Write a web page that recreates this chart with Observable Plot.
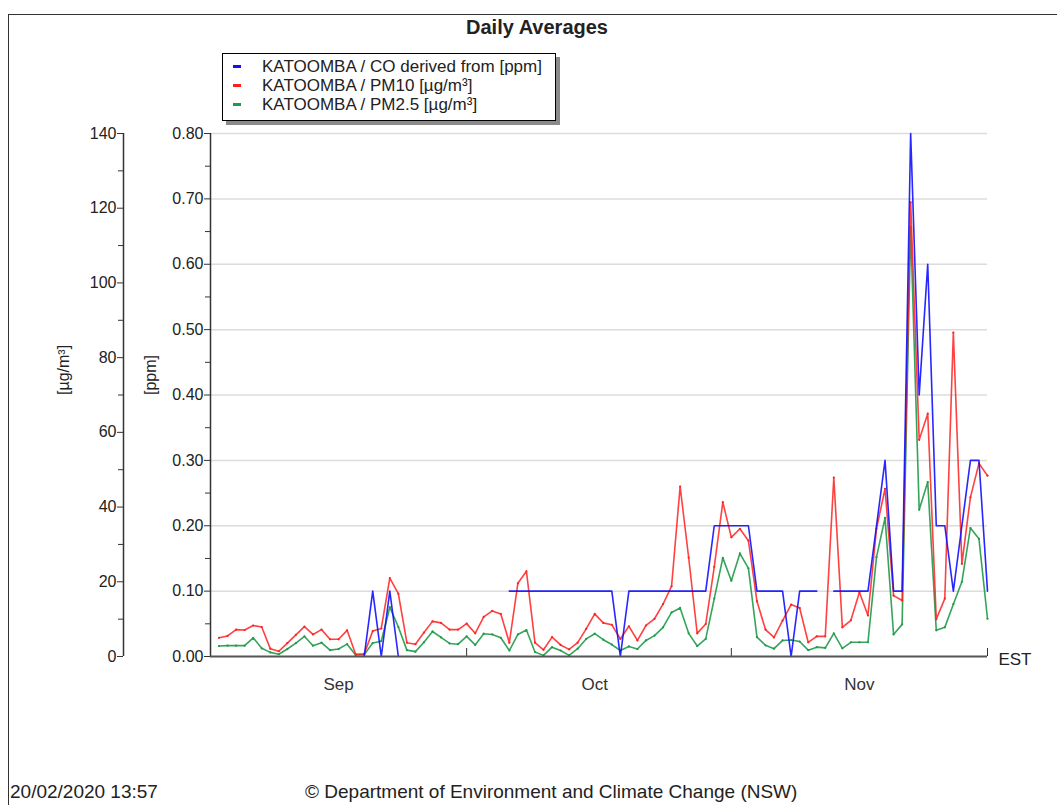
<!DOCTYPE html>
<html>
<head>
<meta charset="utf-8">
<script src="https://cdn.jsdelivr.net/npm/d3@7"></script>
<script src="https://cdn.jsdelivr.net/npm/@observablehq/plot@0.6"></script>
<style>
  html, body { margin: 0; padding: 0; background: #fff; }
  body { position: relative; width: 1057px; height: 805px; overflow: hidden; font-family: "Liberation Sans", Arial, sans-serif; color: #222; }
  #frame { position: absolute; left: 8px; top: 14px; width: 1200px; height: 900px; border-top: 1.5px solid #333; border-left: 1.5px solid #333; }
  #title { position: absolute; left: 387px; width: 300px; top: 16px; text-align: center; font-weight: bold; font-size: 20px; line-height: 23px; }
  #legend { position: absolute; left: 222px; top: 53px; width: 332px; height: 66px; border: 1px solid #000; background: #fff; box-shadow: 4px 4px 0 #8a8a8a; font-size: 17px; }
  #legend .row { position: absolute; left: 0; height: 19px; line-height: 19px; white-space: nowrap; }
  #legend .sw { position: absolute; left: 10px; top: 8px; width: 8px; height: 3px; }
  #legend .tx { position: absolute; left: 39px; top: 0; }
  #chart { position: absolute; left: 0; top: 0; }
  .foot { position: absolute; top: 781px; font-size: 19px; line-height: 22px; white-space: nowrap; }
</style>
</head>
<body>
<div id="frame"></div>
<div id="title">Daily Averages</div>
<div id="chart"></div>
<div id="legend"></div>
<div class="foot" style="left:10px">20/02/2020 13:57</div>
<div class="foot" style="left:305px">© Department of Environment and Climate Change (NSW)</div>
<script>
// ---- Data: daily averages, KATOOMBA, 2 Sep 2019 – 1 Dec 2019 ----
const firstDay = "2019-09-02";
const lastDay = "2019-12-01";

// CO derived from [ppm] (null = no data)
const co = [
  null, null, null, null, null, null, null, null, null, null, null, null, null, null, null, null, null,
  0, 0.1, 0, 0.1, 0,
  null, null, null, null, null, null, null, null, null, null, null, null,
  0.1, 0.1, 0.1, 0.1, 0.1, 0.1, 0.1, 0.1, 0.1, 0.1, 0.1, 0.1, 0.1,
  0,
  0.1, 0.1, 0.1, 0.1, 0.1, 0.1, 0.1, 0.1, 0.1, 0.1,
  0.2, 0.2, 0.2, 0.2, 0.2,
  0.1, 0.1, 0.1, 0.1,
  0,
  0.1, 0.1, 0.1,
  null,
  0.1, 0.1, 0.1, 0.1, 0.1,
  0.2, 0.3, 0.1, 0.1, 0.8, 0.4, 0.6, 0.2, 0.2, 0.1, 0.2, 0.3, 0.3, 0.1
];

// PM10 [µg/m³]
const pm10 = [
  5.0, 5.5, 7.2, 7.1, 8.3, 7.9, 2.1, 1.4, 3.6, 5.8, 8.0, 5.9, 7.2, 4.6, 4.6, 7.0, 0.6, 0.7, 6.8, 7.5, 21.0, 16.8, 3.7, 3.3, 6.4, 9.4, 9.0, 7.2, 7.2,
  8.8, 6.2, 10.6, 12.2, 11.4, 3.7, 19.6, 22.8, 3.7, 1.8, 5.2, 3.1, 1.9, 3.7, 7.4, 11.4, 9.0, 8.5, 4.7, 8.1, 4.3, 8.3, 10.1, 14.0, 18.8, 45.5, 26.5, 6.2, 8.7, 24.0, 41.3,
  31.9, 34.2, 31.0, 14.8, 7.2, 5.1, 9.6, 13.9, 13.0, 3.8, 5.4, 5.4, 47.9, 7.8, 9.7, 17.2, 11.0, 34.2, 44.9, 16.3, 15.0, 121.6, 58.0, 65.0, 10.0, 15.5, 86.7, 24.8, 42.6, 51.7, 48.4
];

// PM2.5 [µg/m³]
const pm25 = [
  2.8, 2.9, 2.9, 2.9, 5.0, 2.2, 1.1, 0.6, 2.0, 3.6, 5.4, 2.9, 3.7, 1.7, 2.0, 3.3, 0.4, 0.5, 3.6, 4.1, 13.2, 7.9, 1.7, 1.3, 3.8, 6.7, 5.1, 3.5, 3.3,
  5.4, 3.1, 6.1, 5.9, 5.0, 1.6, 5.9, 7.1, 1.2, 0.3, 2.5, 1.6, 0.3, 2.1, 4.7, 6.1, 4.5, 3.2, 1.6, 2.7, 2.0, 4.3, 5.6, 7.8, 11.8, 13.0, 6.2, 2.8, 4.7, 15.5, 26.4,
  20.3, 27.6, 23.6, 5.2, 3.0, 2.1, 4.3, 4.4, 4.0, 1.7, 2.5, 2.3, 6.2, 2.2, 3.8, 3.8, 3.8, 26.6, 37.1, 5.9, 8.6, 114.9, 39.3, 46.7, 7.0, 7.8, 14.0, 20.0, 34.4, 31.5, 10.1
];

// Axes / labels
const ppmTicks = [0, 0.1, 0.2, 0.3, 0.4, 0.5, 0.6, 0.7, 0.8];
const ppmMinor = [0.05, 0.15, 0.25, 0.35, 0.45, 0.55, 0.65, 0.75];
const ugTicks = [0, 20, 40, 60, 80, 100, 120, 140];
const ugMinor = [10, 30, 50, 70, 90, 110, 130];
const monthStarts = ["2019-10-01", "2019-11-01", "2019-12-01"];
const monthLabels = ["Sep", "Oct", "Nov"];
const monthMids = ["2019-09-16", "2019-10-16", "2019-11-16"];
const xDomain = ["2019-09-01", "2019-12-01"];
const ugMax = 140, ppmMax = 0.8;

const series = [
  {name: "KATOOMBA / CO derived from [ppm]", color: "#1010ff"},
  {name: "KATOOMBA / PM10 [µg/m³]", color: "#ff2020"},
  {name: "KATOOMBA / PM2.5 [µg/m³]", color: "#1f9a48"}
];

// ---- Build table ----
const k = ppmMax / ugMax; // µg/m³ -> shared (ppm) scale
const days = d3.utcDay.range(new Date(firstDay), d3.utcDay.offset(new Date(lastDay), 1));
const rows = days.map((d, i) => ({
  date: d,
  co: co[i] == null ? NaN : co[i],
  pm10: pm10[i] * k,
  pm25: pm25[i] * k
}));
const D = s => new Date(s);

const axisColor = "#333";
const chart = Plot.plot({
  width: 1057,
  height: 720,
  marginLeft: 210,
  marginRight: 70,
  marginTop: 133,
  marginBottom: 64,
  style: {fontFamily: "'Liberation Sans', Arial, sans-serif", fontSize: "16px", color: "#222", background: "transparent", overflow: "visible"},
  x: {type: "utc", domain: xDomain.map(D)},
  y: {domain: [0, ppmMax]},
  marks: [
    Plot.ruleY(ppmTicks.slice(1), {stroke: "#dcdcdc", strokeWidth: 1.5}),
    // inner axis (ppm)
    Plot.axisY({ticks: ppmTicks, tickFormat: d3.format(".2f"), tickSize: 6, tickPadding: 1, stroke: axisColor, fill: "#222", fontSize: 16}),
    Plot.axisY({ticks: ppmMinor, tickFormat: () => "", tickSize: 5, stroke: axisColor}),
    Plot.ruleX([D(xDomain[0])], {y1: 0, y2: ppmMax, stroke: axisColor, strokeWidth: 1.5}),
    // outer axis (µg/m³)
    Plot.axisY({ticks: ugTicks.map(v => v * k), tickFormat: d => String(Math.round(d / k)), tickSize: 6, tickPadding: 1, dx: -87, stroke: axisColor, fill: "#222", fontSize: 16}),
    Plot.axisY({ticks: ugMinor.map(v => v * k), tickFormat: () => "", tickSize: 5, dx: -87, stroke: axisColor}),
    Plot.ruleX([D(xDomain[0])], {y1: 0, y2: ppmMax, dx: -87, stroke: axisColor, strokeWidth: 1.5}),
    Plot.text(["[ppm]"], {frameAnchor: "left", dx: -60, rotate: -90, fontSize: 16, fill: "#222"}),
    Plot.text(["[µg/m³]"], {frameAnchor: "left", dx: -147, rotate: -90, fontSize: 16, fill: "#222"}),
    // x axis
    Plot.axisX({ticks: monthStarts.map(D), tickSize: 8, dy: -8, tickFormat: () => "", stroke: axisColor}),
    Plot.text(monthLabels, {x: monthMids.map(D), frameAnchor: "bottom", dy: 33, fontSize: 17, fill: "#333"}),
    Plot.text(["EST"], {frameAnchor: "bottom-right", dx: 44, dy: 8, fontSize: 17, fill: "#222"}),
    // series
    Plot.line(rows, {x: "date", y: "pm25", stroke: series[2].color, strokeWidth: 1.6, strokeOpacity: 0.9}),
    Plot.dot(rows, {x: "date", y: "pm25", r: 1.1, fill: series[2].color, stroke: null}),
    Plot.line(rows, {x: "date", y: "pm10", stroke: series[1].color, strokeWidth: 1.6, strokeOpacity: 0.85}),
    Plot.dot(rows, {x: "date", y: "pm10", r: 1.1, fill: series[1].color, stroke: null}),
    Plot.line(rows, {x: "date", y: "co", stroke: series[0].color, strokeWidth: 1.6, strokeOpacity: 0.9}),
    Plot.ruleY([0], {stroke: "#555", strokeWidth: 2})
  ]
});
document.getElementById("chart").appendChild(chart);

// ---- Legend ----
const legend = document.getElementById("legend");
series.forEach((s, i) => {
  const row = document.createElement("div");
  row.className = "row";
  row.style.top = (3 + i * 19) + "px";
  row.innerHTML = `<span class="sw" style="background:${s.color}"></span><span class="tx">${s.name}</span>`;
  legend.appendChild(row);
});
</script>
</body>
</html>
